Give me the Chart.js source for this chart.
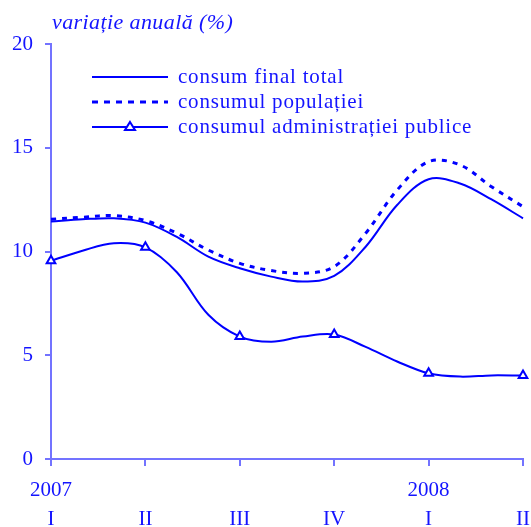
<!DOCTYPE html>
<html>
<head>
<meta charset="utf-8">
<script src="https://cdn.jsdelivr.net/npm/chart.js@4"></script>
<style>
  html, body { margin: 0; padding: 0; background: #fff; }
  #wrap { position: relative; width: 531px; height: 527px; }
  #title { position: absolute; left: 52px; top: 9px; font: italic 22px "Liberation Serif", serif; letter-spacing: 0.4px; color: #1414ff; white-space: nowrap; }
  #legend { position: absolute; left: 92px; top: 64px; font: 21px "Liberation Serif", serif; letter-spacing: 0.8px; color: #1414ff; }
  .row { display: flex; align-items: center; height: 25px; white-space: nowrap; }
  .row svg { width: 76px; height: 14px; margin-right: 10px; }
</style>
</head>
<body>
<div id="wrap">
  <canvas id="chart" width="531" height="527"></canvas>
  <div id="title">variație anuală (%)</div>
  <div id="legend"></div>
</div>
<script>
const MONTHS = ["mar 2007", "apr 2007", "mai 2007", "iun 2007", "iul 2007", "aug 2007", "sep 2007", "oct 2007",
  "nov 2007", "dec 2007", "ian 2008", "feb 2008", "mar 2008", "apr 2008", "mai 2008", "iun 2008"];
const YEAR_TICKS = ["2007", "", "", "", "2008", ""];
const QUARTER_TICKS = ["I", "II", "III", "IV", "I", "II"];
const Y_TICKS = [0, 5, 10, 15, 20];

const SERIES_NAMES = ["consum final total", "consumul populației", "consumul administrației publice"];
const totalCons = [11.44, 11.55, 11.6, 11.39, 10.7, 9.75, 9.19, 8.79, 8.55, 8.82, 10.23, 12.24, 13.48, 13.28, 12.51, 11.6];
const popCons = [11.55, 11.65, 11.73, 11.49, 10.88, 10.07, 9.43, 9.08, 8.95, 9.27, 10.88, 12.96, 14.33, 14.17, 13.12, 12.16];
const admCons = [9.55, 10.04, 10.4, 10.2, 9.0, 6.95, 5.9, 5.65, 5.9, 6.0, 5.4, 4.7, 4.13, 3.97, 4.03, 4.02];

const BLUE = "#0000ff";
const AXIS = "#7373ff";
const TEXT = "#1414ff";
const FONT = "'Liberation Serif', serif";

// markers only at quarter points
const quarterRadius = (ctx) => (ctx.dataIndex % 3 === 0 ? 5 : 0);

new Chart(document.getElementById("chart"), {
  type: "line",
  data: {
    labels: MONTHS,
    datasets: [
      { label: SERIES_NAMES[0], data: totalCons, borderColor: BLUE, borderWidth: 2, pointRadius: 0, tension: 0.35 },
      { label: SERIES_NAMES[1], data: popCons, borderColor: BLUE, borderWidth: 3, borderDash: [5, 6], pointRadius: 0, tension: 0.35 },
      {
        label: SERIES_NAMES[2], data: admCons, borderColor: BLUE, borderWidth: 2, tension: 0.35,
        pointStyle: "triangle", pointRadius: quarterRadius, pointBackgroundColor: "#fff",
        pointBorderColor: BLUE, pointBorderWidth: 2,
      },
    ],
  },
  options: {
    responsive: false,
    animation: false,
    layout: { padding: { top: 44, right: 8, left: 0, bottom: 0 } },
    plugins: { legend: { display: false }, tooltip: { enabled: false } },
    scales: {
      x: {
        offset: false,
        border: { color: AXIS, width: 2 },
        grid: { display: true, drawOnChartArea: false, drawTicks: true, tickLength: 7, color: AXIS, lineWidth: 2 },
        ticks: {
          autoSkip: false, maxRotation: 0, padding: 10, color: TEXT,
          font: { family: FONT, size: 21, lineHeight: 1.38 },
          callback: (v, i) => (i % 3 === 0 ? [YEAR_TICKS[i / 3], QUARTER_TICKS[i / 3]] : null),
        },
        afterFit: (s) => { s.height = 68; s.paddingRight = 0; s.paddingLeft = 0; },
      },
      y: {
        min: 0, max: 20,
        border: { color: AXIS, width: 2 },
        grid: { display: true, drawOnChartArea: false, drawTicks: true, tickLength: 6, color: AXIS, lineWidth: 2 },
        afterBuildTicks: (s) => { s.ticks = Y_TICKS.map((v) => ({ value: v })); },
        ticks: { color: TEXT, padding: 12, font: { family: FONT, size: 21 } },
        afterFit: (s) => { s.width = 51; },
      },
    },
  },
});

// legend drawn in html inside the plot area
const samples = [
  '<line x1="0" y1="7" x2="76" y2="7" stroke="' + BLUE + '" stroke-width="2"/>',
  '<line x1="0" y1="7" x2="76" y2="7" stroke="' + BLUE + '" stroke-width="3" stroke-dasharray="6 6"/>',
  '<line x1="0" y1="7" x2="76" y2="7" stroke="' + BLUE + '" stroke-width="2"/><polygon points="38,2 43,10 33,10" fill="#fff" stroke="' + BLUE + '" stroke-width="2"/>',
];
document.getElementById("legend").innerHTML = SERIES_NAMES.map(
  (n, i) => `<div class="row"><svg viewBox="0 0 76 14">${samples[i]}</svg><span>${n}</span></div>`
).join("");
</script>
</body>
</html>
